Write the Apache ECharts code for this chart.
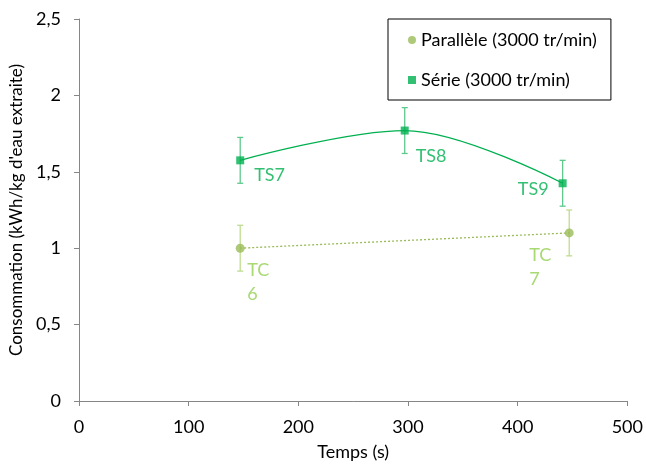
<!DOCTYPE html>
<html>
<head>
<meta charset="utf-8">
<script src="https://cdn.jsdelivr.net/npm/echarts@6/dist/echarts.min.js"></script>
<style>html,body{margin:0;padding:0;background:#fff}#c{width:646px;height:466px}</style>
</head>
<body>
<div id="c"></div>
<script>
// Data
const serieName = 'Série (3000 tr/min)';
const parName = 'Parallèle (3000 tr/min)';
const serieX = [147, 297, 441];
const serieY = [1.575, 1.77, 1.425];
const serieErr = [0.15, 0.15, 0.15];
const serieLabels = ['TS7', 'TS8', 'TS9'];
const parX = [147, 447];
const parY = [1.0, 1.1];
const parErr = [0.15, 0.15];
const parLabels = ['TC\n6', 'TC\n7'];
const xTicks = [0, 100, 200, 300, 400, 500];
const yTicks = [0, 0.5, 1, 1.5, 2, 2.5];

const FONT = 'Lato';
const FS = 18;
const cSerie = '#00B050';
const cPar = '#9BBB59';
const cParLbl = '#92D050';

const serieLblStyle = [
  {align: 'left', offset: [14, 15]},
  {align: 'left', offset: [11, 26]},
  {align: 'right', offset: [-14, 6]}
];
const parLblStyle = [
  {align: 'left', offset: [7, 34]},
  {align: 'left', offset: [-40, 34]}
];

function errData(xs, ys, es) {
  return xs.map((x, i) => [x, ys[i] - es[i], ys[i] + es[i]]);
}
function errRender(color) {
  return function (params, api) {
    const x = api.value(0), lo = api.value(1), hi = api.value(2);
    const pt = api.coord([x, hi]), pb = api.coord([x, lo]);
    const s = {stroke: color, lineWidth: 1.3};
    const w = 3;
    return {type: 'group', children: [
      {type: 'line', shape: {x1: pt[0], y1: pt[1], x2: pb[0], y2: pb[1]}, style: s},
      {type: 'line', shape: {x1: pt[0] - w, y1: pt[1], x2: pt[0] + w, y2: pt[1]}, style: s},
      {type: 'line', shape: {x1: pb[0] - w, y1: pb[1], x2: pb[0] + w, y2: pb[1]}, style: s}
    ]};
  };
}

const chart = echarts.init(document.getElementById('c'), null, {renderer: 'canvas'});
chart.setOption({
  animation: false,
  textStyle: {fontFamily: FONT},
  grid: {left: 79, right: 17, top: 19, bottom: 65},
  legend: {
    data: [
      {name: parName, icon: 'circle'},
      {name: serieName, icon: 'rect'}
    ],
    orient: 'vertical',
    left: 388, top: 19,
    padding: [12, 14, 11, 20],
    itemGap: 22,
    itemWidth: 8, itemHeight: 8,
    borderColor: '#000', borderWidth: 1,
    textStyle: {fontFamily: FONT, fontSize: FS, color: '#000', lineHeight: 18}
  },
  xAxis: {
    type: 'value', min: xTicks[0], max: xTicks[xTicks.length - 1], interval: 100,
    name: 'Temps (s)', nameLocation: 'middle', nameGap: 42,
    nameTextStyle: {fontFamily: FONT, fontSize: FS, color: '#000'},
    axisLine: {show: true, lineStyle: {color: '#868686', width: 1}},
    axisTick: {show: true, length: 5, lineStyle: {color: '#868686'}},
    axisLabel: {fontFamily: FONT, fontSize: FS, color: '#000', margin: 17},
    splitLine: {show: false}
  },
  yAxis: {
    type: 'value', min: yTicks[0], max: yTicks[yTicks.length - 1], interval: 0.5,
    name: "Consommation (kWh/kg d'eau extraite)", nameLocation: 'middle', nameGap: 48,
    nameTextStyle: {fontFamily: FONT, fontSize: 17, color: '#000'},
    axisLine: {show: true, lineStyle: {color: '#868686', width: 1}},
    axisTick: {show: true, length: 5, lineStyle: {color: '#868686'}},
    axisLabel: {fontFamily: FONT, fontSize: FS, color: '#000', margin: 18,
      formatter: v => String(v).replace('.', ',')},
    splitLine: {show: false}
  },
  series: [
    {
      type: 'custom', name: 'errPar', z: 1,
      renderItem: errRender('#BFDC8F'),
      encode: {x: 0, y: [1, 2]},
      data: errData(parX, parY, parErr)
    },
    {
      type: 'custom', name: 'errSerie', z: 1,
      renderItem: errRender('#5FC98D'),
      encode: {x: 0, y: [1, 2]},
      data: errData(serieX, serieY, serieErr)
    },
    {
      type: 'line', name: 'trendSerie', z: 2, smooth: 0.35, showSymbol: false, symbol: 'none',
      lineStyle: {color: cSerie, width: 1.3},
      data: serieX.map((x, i) => [x, serieY[i]])
    },
    {
      type: 'line', name: 'trendPar', z: 2, showSymbol: false, symbol: 'none',
      lineStyle: {color: cPar, width: 1.3, type: [2, 2]},
      data: parX.map((x, i) => [x, parY[i]])
    },
    {
      type: 'scatter', name: parName, z: 3, symbol: 'circle', symbolSize: 9,
      itemStyle: {color: cPar},
      data: parX.map((x, i) => ({
        value: [x, parY[i]],
        label: {show: true, formatter: parLabels[i], position: 'inside',
          align: parLblStyle[i].align, verticalAlign: 'middle', offset: parLblStyle[i].offset,
          color: cParLbl, fontFamily: FONT, fontSize: FS, lineHeight: 24}
      }))
    },
    {
      type: 'scatter', name: serieName, z: 3, symbol: 'rect', symbolSize: 8,
      itemStyle: {color: cSerie},
      data: serieX.map((x, i) => ({
        value: [x, serieY[i]],
        label: {show: true, formatter: serieLabels[i], position: 'inside',
          align: serieLblStyle[i].align, verticalAlign: 'middle', offset: serieLblStyle[i].offset,
          color: cSerie, fontFamily: FONT, fontSize: FS}
      }))
    }
  ]
});
</script>
</body>
</html>
